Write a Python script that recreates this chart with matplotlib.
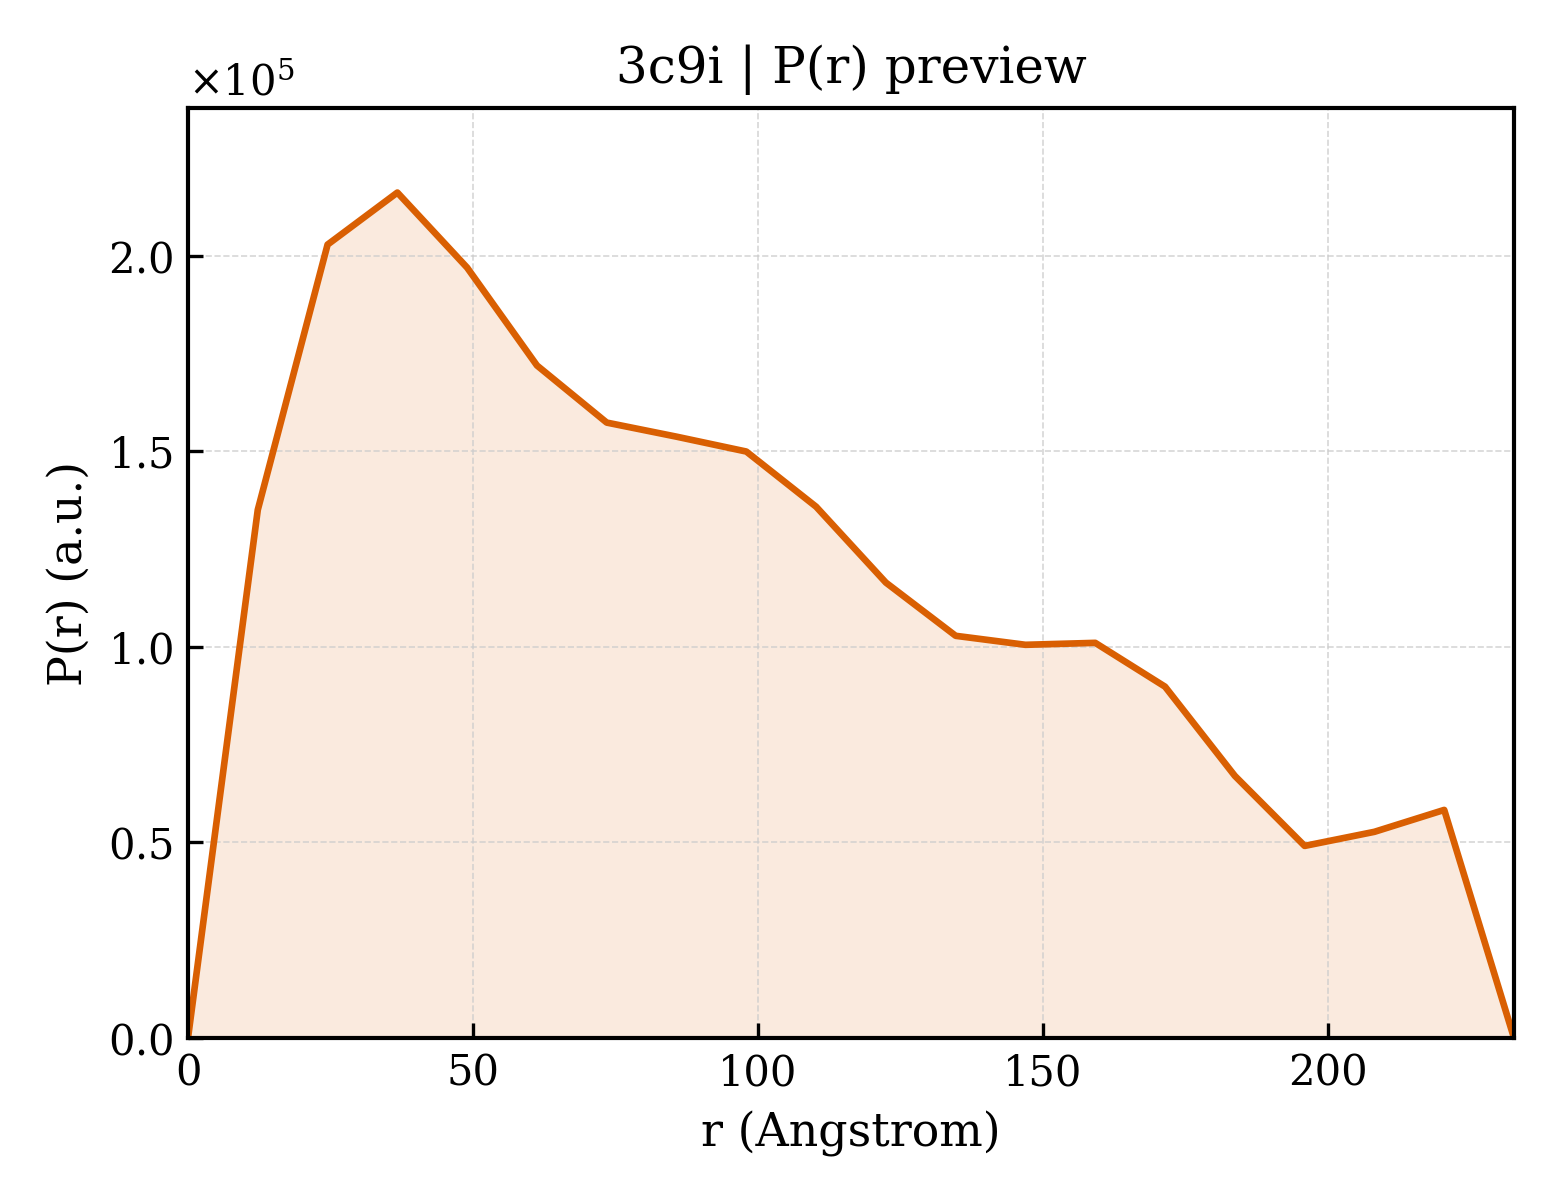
import numpy as np
import matplotlib
matplotlib.use("Agg")
import matplotlib.pyplot as plt
from matplotlib.ticker import ScalarFormatter

r_max = 232.6
n_points = 20
r = np.linspace(0, r_max, n_points)
pr = np.array([0.0, 1.350, 2.028, 2.161, 1.969, 1.719, 1.573, 1.537, 1.499, 1.358,
               1.164, 1.028, 1.005, 1.010, 0.898, 0.670, 0.491, 0.527, 0.583, 0.0]) * 1e5

title = "3c9i | P(r) preview"
xlabel = "r (Angstrom)"
ylabel = "P(r) (a.u.)"
color = "#d95f02"

plt.rcParams['font.family'] = 'DejaVu Serif'
plt.rcParams['mathtext.fontset'] = 'dejavuserif'

fig = plt.figure(figsize=(5.2, 4.0), dpi=300)
ax = fig.add_axes([188/1560, 1-1038/1200, (1514-188)/1560, (1038-108)/1200])
ax.plot(r, pr, color=color, lw=1.6)
ax.fill_between(r, pr, 0, color=color, alpha=0.13, lw=0)
ax.set_xlim(0, r_max)
ax.set_ylim(0, pr.max() * 1.1)
ax.grid(True, ls='--', lw=0.4, color='#cccccc', alpha=0.8)
ax.tick_params(direction='in', labelsize=10)
fmt = ScalarFormatter(useMathText=True)
fmt.set_powerlimits((0, 0))
ax.yaxis.set_major_formatter(fmt)
ax.yaxis.get_offset_text().set_fontsize(10)
ax.set_title(title, fontsize=12)
ax.set_xlabel(xlabel, fontsize=11)
ax.set_ylabel(ylabel, fontsize=11)
for s in ax.spines.values():
    s.set_linewidth(1.0)
fig.savefig("out.png", dpi=300)
